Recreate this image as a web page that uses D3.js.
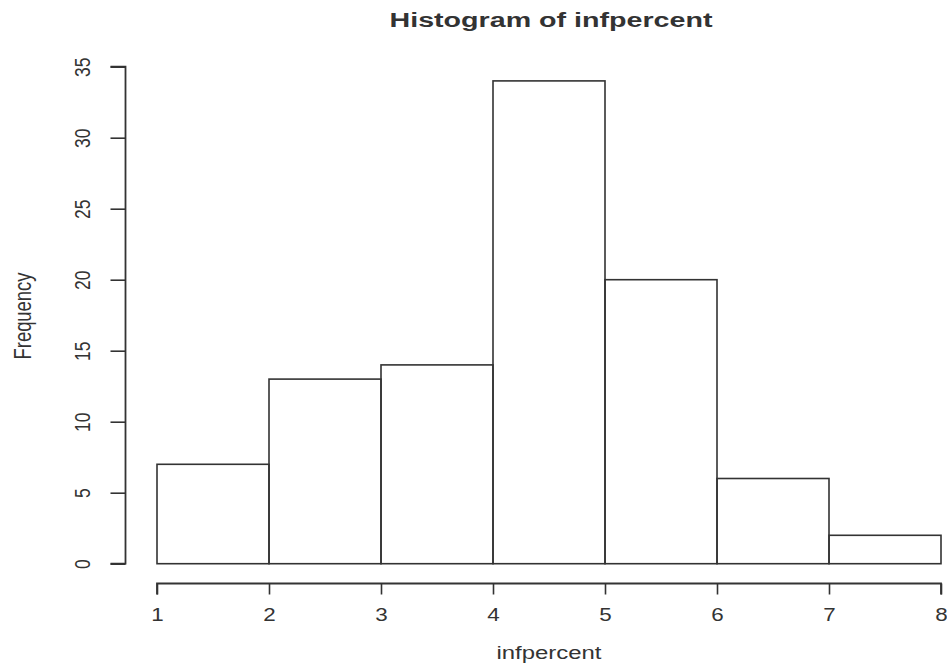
<!DOCTYPE html>
<html>
<head>
<meta charset="utf-8">
<script src="https://cdn.jsdelivr.net/npm/d3@7"></script>
<style>
  html, body { margin: 0; padding: 0; background: #fff; }
  svg { display: block; }
  text { font-family: "Liberation Sans", Arial, sans-serif; fill: #333; }
</style>
</head>
<body>
<svg id="chart" width="947" height="664"></svg>
<script>
// Histogram bins (left edge, right edge) and counts
const binStarts = [1, 2, 3, 4, 5, 6, 7];
const binEnds   = [2, 3, 4, 5, 6, 7, 8];
const counts    = [7, 13, 14, 34, 20, 6, 2];
const xTicks = [1, 2, 3, 4, 5, 6, 7, 8];
const yTicks = [0, 5, 10, 15, 20, 25, 30, 35];
const titleText = "Histogram of infpercent";
const xLabel = "infpercent";
const yLabel = "Frequency";

const svg = d3.select("#chart");
const ink = "#333";
const wide = 1.28; // horizontal glyph stretch used for all labels

const x = d3.scaleLinear().domain([1, 8]).range([157, 941]);
const y = d3.scaleLinear().domain([0, 35]).range([563.7, 66.7]);

// Bars
const bins = binStarts.map((s, i) => ({ x0: s, x1: binEnds[i], n: counts[i] }));
svg.append("g")
  .selectAll("rect")
  .data(bins)
  .join("rect")
  .attr("x", d => x(d.x0))
  .attr("y", d => y(d.n))
  .attr("width", d => x(d.x1) - x(d.x0))
  .attr("height", d => y(0) - y(d.n))
  .attr("fill", "none")
  .attr("stroke", ink)
  .attr("stroke-width", 1.6);

// X axis (offset below the plot, R style)
const xAxis = svg.append("g")
  .attr("transform", "translate(0,583.5)")
  .call(d3.axisBottom(x).tickValues(xTicks).tickSize(11).tickPadding(14).tickFormat(d3.format("d")));
xAxis.select(".domain").attr("d", `M${x(1)},11V0H${x(8)}V11`).attr("stroke", ink).attr("stroke-width", 1.8);
xAxis.selectAll(".tick line").attr("stroke", ink).attr("stroke-width", 1.6);
xAxis.selectAll(".tick text")
  .attr("font-size", 17.5)
  .attr("fill", ink)
  .attr("transform", `scale(${wide},1)`)
  .style("font-family", "Liberation Sans, Arial, sans-serif");

// Y axis with rotated tick labels
const yAxis = svg.append("g")
  .attr("transform", "translate(125.5,0)")
  .call(d3.axisLeft(y).tickValues(yTicks).tickSize(15).tickFormat(d3.format("d")));
yAxis.select(".domain").attr("d", `M-15,${y(0)}H0V${y(35)}H-15`).attr("stroke", ink).attr("stroke-width", 1.8);
yAxis.selectAll(".tick line").attr("stroke", ink).attr("stroke-width", 1.6);
yAxis.selectAll(".tick text")
  .attr("x", null)
  .attr("text-anchor", "middle")
  .attr("font-size", 17.5)
  .attr("fill", ink)
  .style("font-family", "Liberation Sans, Arial, sans-serif")
  .attr("transform", `translate(-43,0) rotate(-90) scale(1,${wide})`)
  .attr("dy", "0.35em");

// Title
svg.append("text")
  .attr("x", 551).attr("y", 27)
  .attr("text-anchor", "middle")
  .attr("font-size", 20)
  .attr("font-weight", "bold")
  .attr("textLength", 323)
  .attr("lengthAdjust", "spacingAndGlyphs")
  .text(titleText);

// Axis titles
svg.append("text")
  .attr("x", 549).attr("y", 659)
  .attr("text-anchor", "middle")
  .attr("font-size", 18)
  .attr("textLength", 105)
  .attr("lengthAdjust", "spacingAndGlyphs")
  .text(xLabel);

svg.append("text")
  .attr("transform", `translate(31,316) rotate(-90) scale(1,${wide})`)
  .attr("text-anchor", "middle")
  .attr("font-size", 18)
  .attr("textLength", 87)
  .attr("lengthAdjust", "spacingAndGlyphs")
  .text(yLabel);
</script>
</body>
</html>
